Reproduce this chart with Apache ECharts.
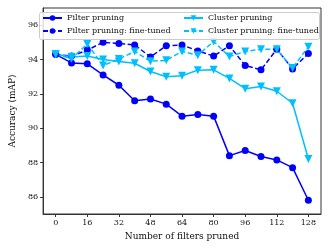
<!DOCTYPE html>
<html>
<head>
<meta charset="utf-8">
<script src="https://cdn.jsdelivr.net/npm/echarts@6/dist/echarts.min.js"></script>
<style>html,body{margin:0;padding:0;background:#fff}#c{width:332px;height:249px}</style>
</head>
<body>
<div id="c"></div>
<script>
const xValues = [0, 8, 16, 24, 32, 40, 48, 56, 64, 72, 80, 88, 96, 104, 112, 120, 128];
const filterPruning = [94.3, 93.8, 93.75, 93.1, 92.5, 91.6, 91.7, 91.4, 90.7, 90.8, 90.7, 88.4, 88.7, 88.35, 88.15, 87.7, 85.8];
const filterFineTuned = [94.3, 94.2, 94.55, 95.0, 94.93, 94.85, 94.15, 94.8, 94.85, 94.5, 94.2, 94.8, 93.65, 93.4, 94.6, 93.45, 94.35];
const clusterPruning = [94.3, 94.15, 94.2, 94.0, 93.88, 93.78, 93.3, 93.0, 93.05, 93.38, 93.4, 92.9, 92.3, 92.43, 92.15, 91.45, 88.2];
const clusterFineTuned = [94.3, 94.05, 94.9, 93.65, 94.03, 94.47, 93.9, 93.95, 94.47, 94.25, 95.05, 94.17, 94.47, 94.6, 94.6, 93.5, 94.75];
const xTicks = [0, 16, 32, 48, 64, 80, 96, 112, 128];
const yTicks = [86, 88, 90, 92, 94, 96];
const seriesNames = ['Filter pruning', 'Filter pruning: fine-tuned', 'Cluster pruning', 'Cluster pruning: fine-tuned'];

const DARK = '#0000ff';
const LIGHT = '#00bfff';
const TRI = 'path://M0,0 L10,0 L5,9 Z';
const FONT = 'DejaVu Serif';

function pts(arr) { return xValues.map((x, i) => [x, arr[i]]); }
function mk(name, arr, color, symbol, dashed) {
  return {
    name: name, type: 'line', data: pts(arr),
    symbol: symbol, symbolSize: symbol === 'circle' ? 7 : 8,
    showSymbol: true,
    lineStyle: { color: color, width: 1.5, type: dashed ? [5, 2.5] : 'solid' },
    itemStyle: { color: color },
    emphasis: { disabled: true },
    animation: false
  };
}

const chart = echarts.init(document.getElementById('c'), null, { renderer: 'canvas' });
const legendCommon = {
  orient: 'vertical', top: 13, itemWidth: 19, itemHeight: 7, itemGap: 3,
  textStyle: { fontFamily: FONT, fontSize: 8, color: '#111', lineHeight: 10 },
  selectedMode: false, padding: 0
};
chart.setOption({
  animation: false,
  grid: { left: 37, right: 11, top: 8, bottom: 35, show: true, borderColor: '#333', borderWidth: 1 },
  graphic: [{
    type: 'rect', left: 39, top: 12, z: 5,
    shape: { width: 280, height: 27, r: 2 },
    style: { fill: 'rgba(255,255,255,0.85)', stroke: '#ccc', lineWidth: 1 }
  }],
  legend: [
    Object.assign({ left: 42, data: [seriesNames[0], seriesNames[1]], z: 10 }, legendCommon),
    Object.assign({ left: 183, data: [seriesNames[2], seriesNames[3]], z: 10 }, legendCommon)
  ],
  xAxis: {
    type: 'value', min: -6.4, max: 134.4,
    name: 'Number of filters pruned', nameLocation: 'middle', nameGap: 16,
    nameTextStyle: { fontFamily: FONT, fontSize: 9, color: '#111' },
    axisLine: { show: true, onZero: false, lineStyle: { color: '#333' } },
    axisTick: { show: true, length: 3, customValues: xTicks, lineStyle: { color: '#333' } },
    axisLabel: { customValues: xTicks, fontFamily: FONT, fontSize: 8, color: '#111', margin: 5 },
    splitLine: { show: false }
  },
  yAxis: {
    type: 'value', min: 85, max: 97,
    name: 'Accuracy (mAP)', nameLocation: 'middle', nameGap: 23,
    nameTextStyle: { fontFamily: FONT, fontSize: 9, color: '#111' },
    axisLine: { show: true, onZero: false, lineStyle: { color: '#333' } },
    axisTick: { show: true, length: 3, customValues: yTicks, lineStyle: { color: '#333' } },
    axisLabel: { customValues: yTicks, fontFamily: FONT, fontSize: 8, color: '#111', margin: 5 },
    splitLine: { show: false }
  },
  series: [
    mk(seriesNames[0], filterPruning, DARK, 'circle', false),
    mk(seriesNames[1], filterFineTuned, DARK, 'circle', true),
    mk(seriesNames[2], clusterPruning, LIGHT, TRI, false),
    mk(seriesNames[3], clusterFineTuned, LIGHT, TRI, true)
  ]
});
</script>
</body>
</html>
